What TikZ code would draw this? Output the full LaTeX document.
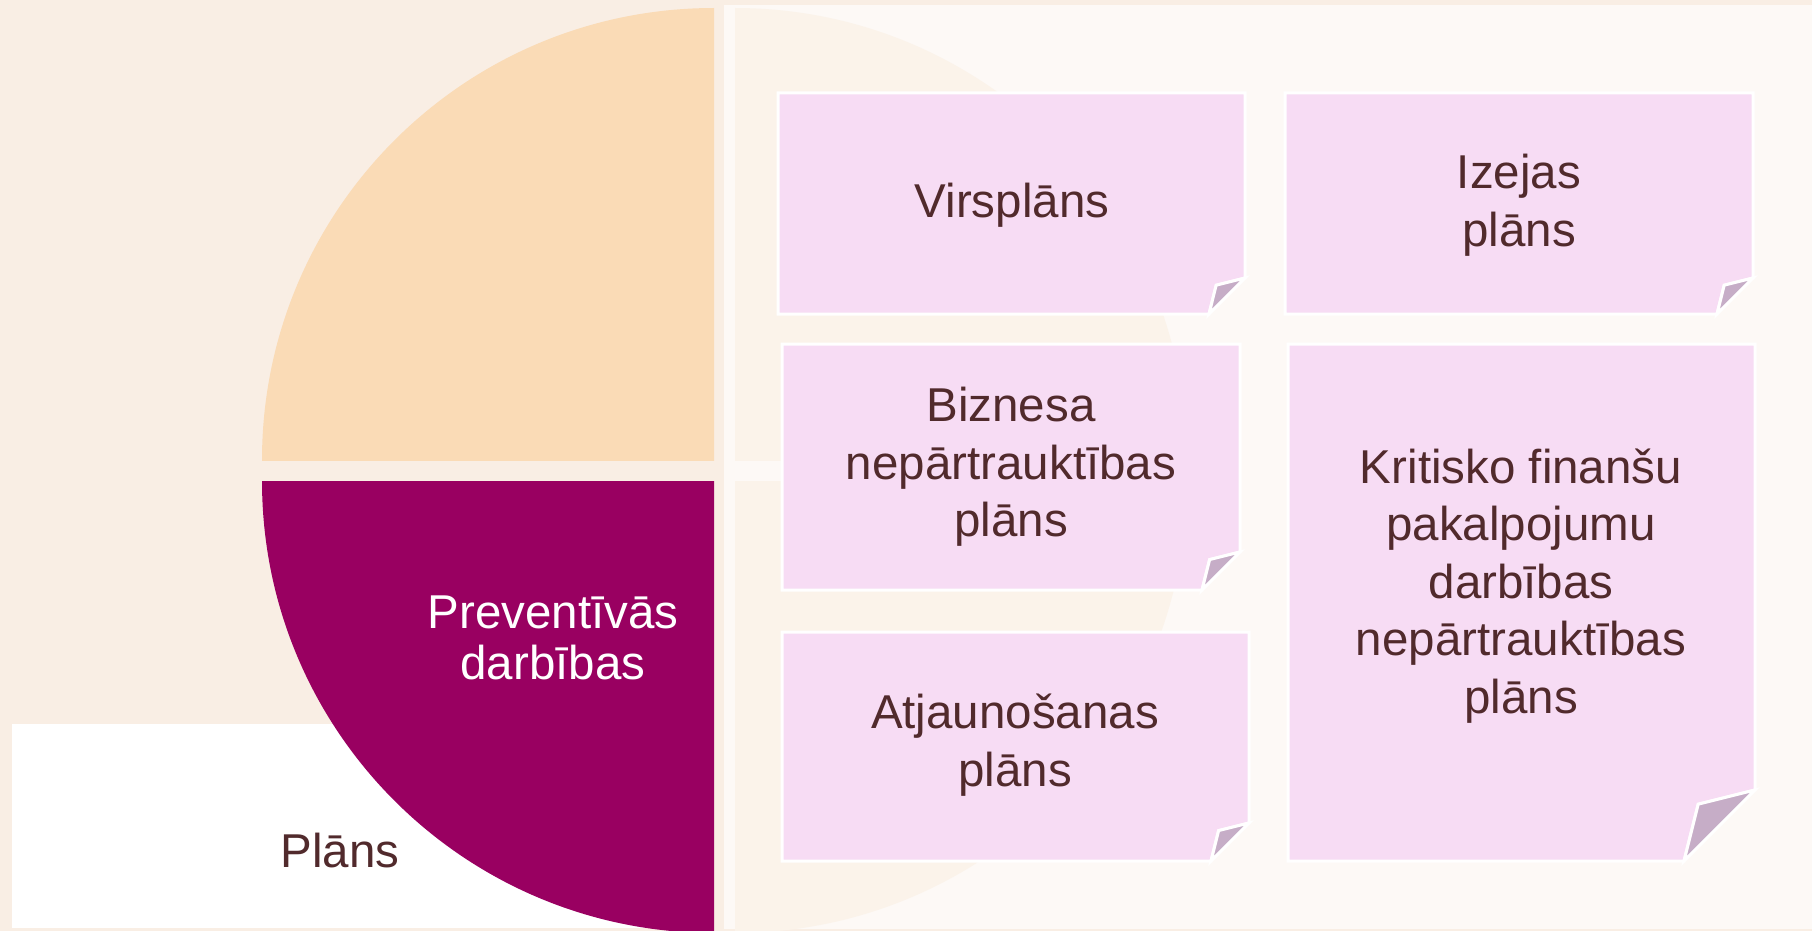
\documentclass[tikz,border=0pt]{standalone}
\usepackage{fontspec}
\setmainfont{Liberation Sans}
\definecolor{bgbeige}{HTML}{F9EEE4}
\definecolor{panel}{HTML}{FDF9F6}
\definecolor{faint}{HTML}{FBF3EA}
\definecolor{peach}{HTML}{FADBB6}
\definecolor{plum}{HTML}{990061}
\definecolor{cardfill}{HTML}{F7DCF4}
\definecolor{foldfill}{HTML}{C6ADC7}
\definecolor{txt}{HTML}{512A2C}
\newcommand{\stickycard}[5]{%
  \filldraw[cardbox] (#1,#2) -- (#3,#2) -- (#3,#4-#5) -- (#3-0.8*#5,#4-0.8*#5) -- (#3-#5,#4) -- (#1,#4) -- cycle;
  \filldraw[foldbox] (#3,#4-#5) -- (#3-#5,#4) -- (#3-0.8*#5,#4-0.8*#5) -- cycle;
}
\begin{document}
\begin{tikzpicture}[x=1pt,y=-1pt,
  cardbox/.style={fill=cardfill, draw=white, line width=3pt, line join=miter},
  foldbox/.style={fill=foldfill, draw=white, line width=3pt, line join=miter},
  lbl/.style={font=\fontsize{47.5}{57.5}\selectfont, text=txt, align=center, inner sep=0pt},
  wlbl/.style={font=\fontsize{47.5}{51}\selectfont, text=white, align=center, inner sep=0pt}]
\useasboundingbox (0,0) rectangle (1812,931);
\clip (0,0) rectangle (1812,931);
\fill[bgbeige] (0,0) rectangle (1812,931);
\fill[panel] (724,5) rectangle (1812,929);
% faint quadrants in right panel
\begin{scope}
  \clip (735,8) rectangle (1200,460);
  \fill[faint] (735,460) circle[radius=452pt];
\end{scope}
\begin{scope}
  \clip (735,481) rectangle (1200,931);
  \fill[faint] (735,481) circle[radius=452pt];
\end{scope}
% white label box
\fill[white] (12,724) rectangle (714,928);
% orange quadrant
\begin{scope}
  \clip (250,8) rectangle (714,460);
  \fill[peach] (714,460) circle[radius=452pt];
\end{scope}
% purple quadrant
\begin{scope}
  \clip (250,481) rectangle (714,940);
  \fill[plum] (714,481) circle[radius=452pt];
\end{scope}
% cards
\stickycard{778}{93}{1245}{314}{36}
\stickycard{1285}{93}{1753}{314}{36}
\stickycard{782}{344}{1240}{590}{38}
\stickycard{1288}{344}{1755}{861}{71}
\stickycard{782}{632}{1249}{861}{38}
% texts
\node[lbl] (virs) at (1012,205) {Virsplāns};
\node[lbl] (izejas) at (1519,205) {Izejas\\plāns};
\node[lbl] (biz) at (1011,467) {Biznesa\\nepārtrauktības\\plāns};
\node[lbl] (krit) at (1521,586) {Kritisko finanšu\\pakalpojumu\\darbības\\nepārtrauktības\\plāns};
\node[lbl] (atj) at (1015,745) {Atjaunošanas\\plāns};
\node[wlbl] (prev) at (553,637.5) {Preventīvās\\darbības};
\node[lbl] (plans) at (340,850.5) {Plāns};
\end{tikzpicture}
\end{document}
